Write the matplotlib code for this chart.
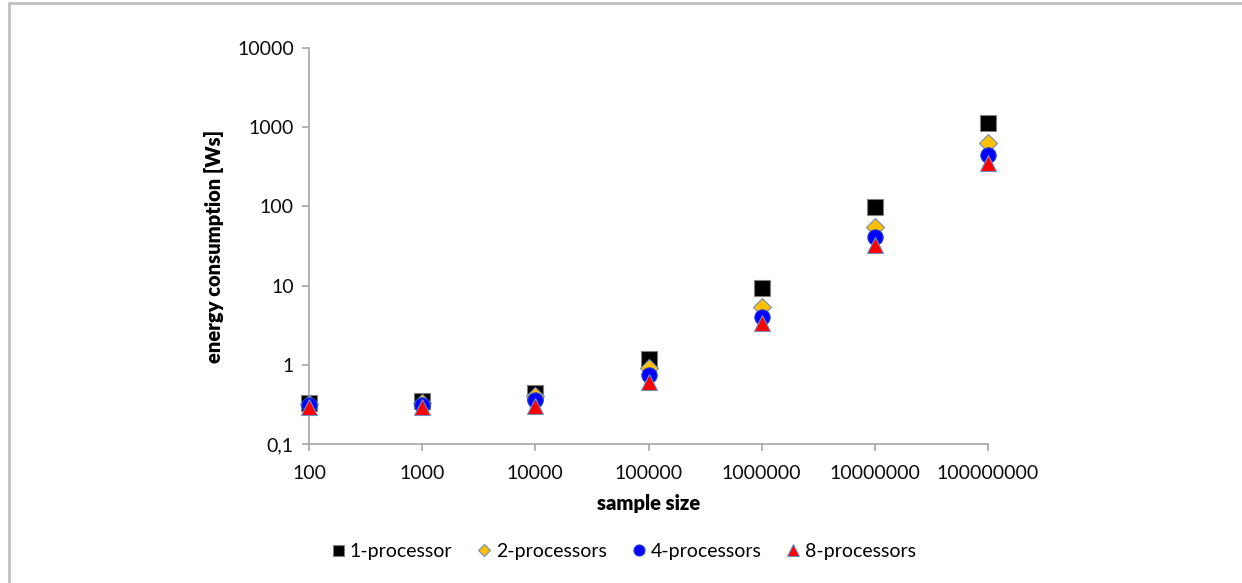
import numpy as np
import matplotlib.pyplot as plt
from matplotlib.patches import Rectangle
from matplotlib.ticker import FixedLocator, FuncFormatter, NullLocator

# ============================================================
# DATA
# ============================================================

SAMPLE_SIZES = [1e2, 1e3, 1e4, 1e5, 1e6, 1e7, 1e8]

ENERGY_1PROC = [0.33, 0.35, 0.44, 1.19, 9.4, 99.0, 1140.0]
ENERGY_2PROC = [0.32, 0.33, 0.40, 0.92, 5.4, 55.0, 635.0]
ENERGY_4PROC = [0.31, 0.31, 0.36, 0.75, 4.0, 41.0, 448.0]
ENERGY_8PROC = [0.29, 0.29, 0.30, 0.61, 3.4, 33.0, 356.0]

Y_TICKS = [0.1, 1, 10, 100, 1000, 10000]

OUTPUT_PLOT = "out.png"

# ============================================================
# FIGURE
# ============================================================

plt.rcParams["font.family"] = ["Lato", "DejaVu Sans"]

fig = plt.figure(figsize=(12.42, 5.83), dpi=100)
ax = fig.add_axes([0.2488, 0.2384, 0.5467, 0.6793])

# outer chart frame (open at right and bottom)
fig.add_artist(Rectangle((8.5 / 1242, -0.1), 1.2, 1 + 0.1 - 3.5 / 583,
                         transform=fig.transFigure, fill=False,
                         edgecolor="#bfbfbf", lw=2.0))

edge_blue = "#6d8fc7"

ax.plot(SAMPLE_SIZES, ENERGY_1PROC, ls="none", marker="s", ms=11,
        mfc="black", mec="#808080", mew=0.8, label="1-processor",
        zorder=3, clip_on=False)
ax.plot(SAMPLE_SIZES, ENERGY_2PROC, ls="none", marker="D", ms=9,
        mfc="#ffc000", mec=edge_blue, mew=0.8, label="2-processors",
        zorder=4, clip_on=False)
ax.plot(SAMPLE_SIZES, ENERGY_4PROC, ls="none", marker="o", ms=11,
        mfc="#0000ff", mec="#1a3fd0", mew=0.8, label="4-processors",
        zorder=5, clip_on=False)
ax.plot(SAMPLE_SIZES, ENERGY_8PROC, ls="none", marker="^", ms=12,
        mfc="#ff0000", mec=edge_blue, mew=0.8, label="8-processors",
        zorder=6, clip_on=False)

# ============================================================
# AXES STYLE
# ============================================================

ax.set_xscale("log")
ax.set_yscale("log")
ax.set_xlim(SAMPLE_SIZES[0], SAMPLE_SIZES[-1])
ax.set_ylim(Y_TICKS[0], Y_TICKS[-1])

ax.xaxis.set_major_locator(FixedLocator(SAMPLE_SIZES))
ax.xaxis.set_minor_locator(NullLocator())
ax.yaxis.set_major_locator(FixedLocator(Y_TICKS))
ax.yaxis.set_minor_locator(NullLocator())

ax.xaxis.set_major_formatter(FuncFormatter(lambda v, p: f"{int(round(v))}"))
ax.yaxis.set_major_formatter(FuncFormatter(
    lambda v, p: f"{v:g}".replace(".", ",")))

for side in ["top", "right"]:
    ax.spines[side].set_visible(False)
for side in ["left", "bottom"]:
    ax.spines[side].set_color("#a6a6a6")
    ax.spines[side].set_linewidth(1.2)

ax.tick_params(axis="both", which="major", direction="out", length=5,
               width=1.2, color="#a6a6a6", labelsize=14, labelcolor="#0d0d0d")
ax.tick_params(axis="x", pad=10)
ax.tick_params(axis="y", pad=6)

ax.set_xlabel("sample size", fontsize=14.5, fontweight="heavy", labelpad=9)
ax.set_ylabel("energy consumption [Ws]", fontsize=14.5, fontweight="heavy",
              labelpad=9)

ax.legend(loc="center",
          bbox_to_anchor=((622 / 1242 - 0.2488) / 0.5467,
                          (1 - 551 / 583 - 0.2384) / 0.6793),
          ncol=4, frameon=False, fontsize=14, markerscale=0.72,
          handletextpad=0.1, columnspacing=1.15, handlelength=1.0)

plt.savefig(OUTPUT_PLOT, dpi=100)
